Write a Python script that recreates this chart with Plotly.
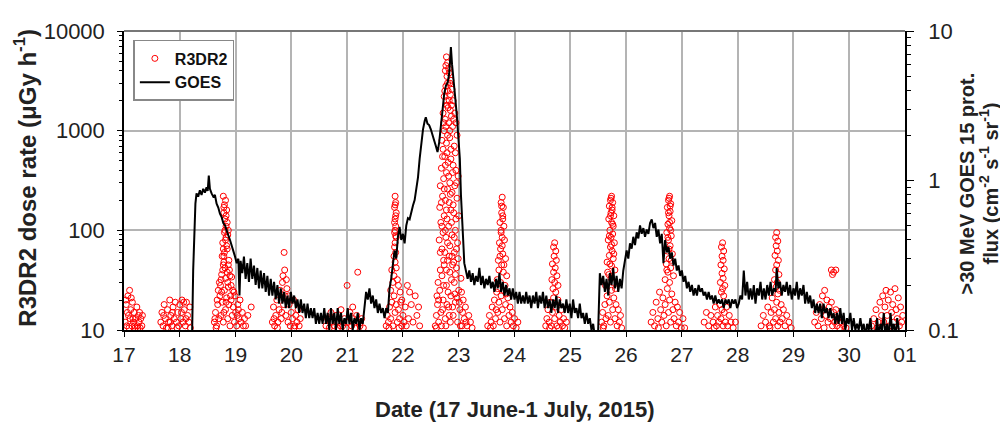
import plotly.graph_objects as go

# ---------------- DATA ----------------
# x tick labels (day of June 2015 ... 01 July)
day_ticks = [17, 18, 19, 20, 21, 22, 23, 24, 25, 26, 27, 28, 29, 30, 31]
day_labels = ["17", "18", "19", "20", "21", "22", "23", "24", "25", "26", "27", "28", "29", "30", "01"]
dose_ticks = [10, 100, 1000, 10000]
flux_ticks = [0.1, 1, 10]

# GOES >30 MeV proton flux (day, flux)
goes_part1 = [
    (18.20, 0.09), (18.22, 0.09), (18.24, 0.25), (18.26, 0.45), (18.28, 0.70), (18.30, 0.82), (18.33, 0.78),
    (18.36, 0.86), (18.39, 0.80), (18.42, 0.88), (18.45, 0.83), (18.48, 0.90), (18.50, 0.85), (18.52, 1.08),
    (18.54, 0.88), (18.57, 0.82), (18.60, 0.78), (18.63, 0.80), (18.66, 0.70), (18.69, 0.66), (18.72, 0.60),
    (18.75, 0.57), (18.78, 0.52), (18.81, 0.50), (18.84, 0.47), (18.87, 0.43), (18.90, 0.40), (18.93, 0.37),
    (18.96, 0.34), (18.99, 0.31), (19.02, 0.28), (19.05, 0.30), (19.07, 0.17), (19.09, 0.29), (19.12, 0.24),
    (19.15, 0.31), (19.18, 0.22), (19.21, 0.28), (19.24, 0.21), (19.27, 0.30), (19.30, 0.22), (19.33, 0.27),
    (19.36, 0.20), (19.39, 0.26), (19.42, 0.19), (19.45, 0.25), (19.48, 0.19), (19.51, 0.24), (19.54, 0.18),
    (19.57, 0.23), (19.60, 0.17), (19.63, 0.22), (19.66, 0.17), (19.69, 0.21), (19.72, 0.16), (19.75, 0.20),
    (19.78, 0.15), (19.81, 0.19), (19.84, 0.15), (19.87, 0.18), (19.90, 0.14), (19.93, 0.17), (19.96, 0.14),
    (19.99, 0.18), (20.02, 0.15), (20.05, 0.17), (20.08, 0.14), (20.11, 0.16), (20.14, 0.13), (20.17, 0.16),
    (20.20, 0.13), (20.23, 0.15), (20.26, 0.12), (20.29, 0.15), (20.32, 0.12), (20.35, 0.14), (20.38, 0.12),
    (20.41, 0.14), (20.44, 0.11), (20.47, 0.13), (20.50, 0.11), (20.53, 0.13), (20.56, 0.11), (20.59, 0.14),
    (20.62, 0.11), (20.65, 0.13), (20.68, 0.10), (20.71, 0.14), (20.74, 0.11), (20.77, 0.13), (20.80, 0.10),
    (20.83, 0.14), (20.86, 0.11), (20.89, 0.13), (20.92, 0.10), (20.95, 0.12), (20.98, 0.11), (21.01, 0.14),
    (21.04, 0.11), (21.07, 0.13), (21.10, 0.10), (21.13, 0.12), (21.16, 0.11), (21.19, 0.13), (21.22, 0.10),
    (21.25, 0.12), (21.28, 0.11), (21.31, 0.15), (21.34, 0.18), (21.37, 0.16), (21.40, 0.19), (21.43, 0.15),
    (21.46, 0.17), (21.49, 0.14), (21.52, 0.16), (21.55, 0.13), (21.58, 0.15), (21.61, 0.13), (21.64, 0.14),
    (21.67, 0.12), (21.70, 0.14), (21.73, 0.13),
]
goes_part2 = [
    (21.76, 0.19), (21.79, 0.22), (21.82, 0.28), (21.85, 0.34), (21.88, 0.30), (21.91, 0.42), (21.94, 0.49),
    (21.97, 0.40), (22.00, 0.44), (22.03, 0.38), (22.06, 0.50), (22.09, 0.56), (22.12, 0.55), (22.15, 0.62),
    (22.18, 0.68), (22.21, 0.74), (22.24, 0.90), (22.27, 1.05), (22.30, 1.40), (22.33, 1.80), (22.36, 2.20),
    (22.39, 2.50), (22.41, 2.65), (22.44, 2.40), (22.47, 2.35), (22.50, 2.20), (22.53, 2.05), (22.56, 1.85),
    (22.59, 1.70), (22.62, 1.55), (22.65, 1.80), (22.68, 2.40), (22.71, 3.00), (22.74, 3.80), (22.77, 4.30),
    (22.80, 4.50), (22.83, 5.20), (22.86, 7.80), (22.88, 6.00), (22.91, 4.80), (22.94, 3.50), (22.97, 2.60),
    (23.00, 1.70), (23.02, 1.40), (23.04, 0.80), (23.06, 0.50), (23.08, 0.40), (23.10, 0.28), (23.13, 0.24),
    (23.16, 0.22), (23.19, 0.25), (23.22, 0.21), (23.25, 0.24), (23.28, 0.20), (23.31, 0.23), (23.34, 0.21),
    (23.37, 0.26), (23.40, 0.20), (23.43, 0.23), (23.46, 0.19), (23.49, 0.22), (23.52, 0.20), (23.55, 0.23),
    (23.58, 0.19), (23.61, 0.21), (23.64, 0.18), (23.67, 0.22), (23.70, 0.19), (23.73, 0.24), (23.76, 0.18),
    (23.79, 0.21), (23.82, 0.17), (23.85, 0.20), (23.88, 0.17), (23.91, 0.19), (23.94, 0.16), (23.97, 0.19),
    (24.00, 0.16), (24.03, 0.18), (24.06, 0.15), (24.09, 0.18), (24.12, 0.15), (24.15, 0.17), (24.18, 0.15),
    (24.21, 0.18), (24.24, 0.15), (24.27, 0.17), (24.30, 0.14), (24.33, 0.17), (24.36, 0.15), (24.39, 0.18),
    (24.42, 0.14), (24.45, 0.17), (24.48, 0.15), (24.51, 0.18), (24.54, 0.14), (24.57, 0.17), (24.60, 0.14),
    (24.63, 0.16), (24.66, 0.13), (24.69, 0.16), (24.72, 0.14), (24.75, 0.17), (24.78, 0.13), (24.81, 0.16),
    (24.84, 0.14), (24.87, 0.15), (24.90, 0.13), (24.93, 0.16), (24.96, 0.13), (24.99, 0.15), (25.02, 0.12),
    (25.05, 0.16), (25.08, 0.13), (25.11, 0.14), (25.14, 0.12), (25.17, 0.15), (25.20, 0.12), (25.23, 0.13),
    (25.26, 0.11), (25.29, 0.13), (25.32, 0.11), (25.35, 0.12), (25.38, 0.10), (25.41, 0.11), (25.44, 0.09),
    (25.47, 0.09), (25.50, 0.10),
]
goes_part3 = [
    (25.53, 0.24), (25.56, 0.20), (25.59, 0.23), (25.62, 0.18), (25.65, 0.22), (25.68, 0.17), (25.71, 0.24),
    (25.74, 0.20), (25.77, 0.26), (25.80, 0.19), (25.83, 0.23), (25.86, 0.18), (25.89, 0.22), (25.92, 0.19),
    (25.95, 0.25), (25.98, 0.29), (26.01, 0.34), (26.04, 0.30), (26.07, 0.38), (26.10, 0.35), (26.13, 0.42),
    (26.16, 0.37), (26.19, 0.45), (26.22, 0.41), (26.25, 0.50), (26.28, 0.44), (26.31, 0.48), (26.34, 0.42),
    (26.37, 0.47), (26.40, 0.44), (26.43, 0.52), (26.46, 0.55), (26.49, 0.48), (26.52, 0.52), (26.55, 0.42),
    (26.58, 0.47), (26.61, 0.38), (26.64, 0.44), (26.67, 0.28), (26.70, 0.40), (26.73, 0.33), (26.76, 0.36),
    (26.79, 0.30), (26.82, 0.33), (26.85, 0.27), (26.88, 0.30), (26.91, 0.25), (26.94, 0.27), (26.97, 0.23),
    (27.00, 0.25), (27.03, 0.21), (27.06, 0.23), (27.09, 0.19), (27.12, 0.21), (27.15, 0.18), (27.18, 0.20),
    (27.21, 0.17), (27.24, 0.19), (27.27, 0.17), (27.30, 0.20), (27.33, 0.18), (27.36, 0.19), (27.39, 0.17),
    (27.42, 0.18), (27.45, 0.16), (27.48, 0.18), (27.51, 0.16), (27.54, 0.17), (27.57, 0.15), (27.60, 0.17),
    (27.63, 0.15), (27.66, 0.16), (27.69, 0.15), (27.72, 0.16), (27.75, 0.14), (27.78, 0.16), (27.81, 0.15),
    (27.84, 0.16), (27.87, 0.14), (27.90, 0.16), (27.93, 0.15), (27.96, 0.16), (27.99, 0.14), (28.02, 0.15),
    (28.05, 0.17), (28.08, 0.16), (28.11, 0.25), (28.14, 0.17), (28.17, 0.21), (28.20, 0.16), (28.23, 0.19),
    (28.26, 0.16), (28.29, 0.20), (28.32, 0.15), (28.35, 0.19), (28.38, 0.17), (28.41, 0.21), (28.44, 0.16),
    (28.47, 0.19), (28.50, 0.16), (28.53, 0.20), (28.56, 0.17), (28.59, 0.21), (28.62, 0.17), (28.65, 0.19),
    (28.68, 0.18), (28.70, 0.26), (28.73, 0.19), (28.76, 0.21), (28.79, 0.17), (28.82, 0.20), (28.85, 0.18),
    (28.88, 0.21), (28.91, 0.17), (28.94, 0.20), (28.97, 0.16), (29.00, 0.19), (29.03, 0.17), (29.06, 0.21),
    (29.09, 0.16), (29.12, 0.19), (29.15, 0.17), (29.18, 0.20), (29.21, 0.15), (29.24, 0.18), (29.27, 0.15),
    (29.30, 0.17), (29.33, 0.14), (29.36, 0.16), (29.39, 0.13), (29.42, 0.15), (29.45, 0.13), (29.48, 0.15),
    (29.51, 0.12), (29.54, 0.15), (29.57, 0.13), (29.60, 0.14), (29.63, 0.12), (29.66, 0.14), (29.69, 0.12),
    (29.72, 0.13), (29.75, 0.11), (29.78, 0.13), (29.81, 0.11), (29.84, 0.14), (29.87, 0.11), (29.90, 0.13),
    (29.93, 0.10), (29.96, 0.12), (29.99, 0.11), (30.02, 0.13), (30.05, 0.10), (30.08, 0.12), (30.11, 0.10),
    (30.14, 0.11), (30.17, 0.10), (30.20, 0.12), (30.23, 0.10), (30.26, 0.11), (30.29, 0.09), (30.32, 0.11),
    (30.35, 0.10), (30.38, 0.12), (30.41, 0.09), (30.44, 0.10), (30.47, 0.09), (30.50, 0.12), (30.53, 0.09),
    (30.56, 0.11), (30.59, 0.10), (30.62, 0.13), (30.65, 0.09), (30.68, 0.11), (30.71, 0.09), (30.74, 0.13),
    (30.77, 0.10), (30.80, 0.11), (30.83, 0.09), (30.86, 0.12), (30.89, 0.10), (30.92, 0.09),
]

# R3DR2 dose rate (day, uGy/h), grouped by radiation-belt passage
r3_17a = [(17.02,12),(17.04,18),(17.05,11),(17.07,22),(17.08,14),(17.10,25),(17.11,13),(17.12,16),(17.14,11),
          (17.15,19),(17.17,12),(17.18,15),(17.20,10.5),(17.21,13),(17.23,17),(17.24,11),(17.26,14),(17.27,12),
          (17.29,10.5),(17.30,13),(17.32,11),(17.33,14),(17.06,15),(17.09,10.5),(17.13,21),(17.19,11),
          (17.25,10.5),(17.16,13),(17.03,20),(17.28,15)]
r3_17b = [(17.66,12),(17.68,15),(17.70,11),(17.72,18),(17.74,13),(17.76,10.5),(17.78,16),(17.80,12),(17.82,20),
          (17.84,14),(17.86,11),(17.88,17),(17.90,13),(17.92,19),(17.94,12),(17.96,15),(17.98,11),(18.00,18),
          (18.02,13),(18.04,20),(18.06,12),(18.08,16),(18.10,11),(18.12,19),(18.14,14),(18.16,12),(18.18,17),
          (17.71,14),(17.79,10.5),(17.87,15),(17.95,10.5),(18.03,15),(18.11,13),(18.19,10.5),(17.83,12),(18.07,19)]
r3_18 = [(18.78,220),(18.80,180),(18.79,150),(18.82,200),(18.81,130),(18.84,160),(18.83,110),(18.85,120),
         (18.80,95),(18.86,90),(18.82,80),(18.84,70),(18.78,65),(18.87,100),(18.83,140),
         (18.76,55),(18.79,48),(18.81,42),(18.85,38),(18.88,50),(18.90,35),(18.77,40),(18.74,32),(18.86,30),
         (18.92,28),(18.95,25),(18.82,33),(18.80,60),(18.78,45),
         (18.62,12),(18.64,15),(18.66,11),(18.68,18),(18.70,13),(18.72,22),(18.74,14),(18.76,19),(18.78,12),
         (18.80,25),(18.82,16),(18.84,21),(18.86,13),(18.88,18),(18.90,11),(18.92,20),(18.94,14),(18.96,17),
         (18.98,12),(19.00,15),(19.02,11),(19.04,18),(19.06,13),(19.08,20),(19.10,12),(19.12,15),(19.14,11),
         (19.16,13),(18.69,25),(18.73,28),(18.91,22),(18.97,24),(19.05,16),(18.65,10.5),(19.18,11),(18.87,27),
         (19.22,14),(19.28,17),
         (18.79,170),(18.81,100),(18.83,85),(18.77,75),(18.85,65),(18.79,55),(18.87,45),(18.75,36),(18.89,40),
         (18.71,30),(18.93,34),(18.67,20),(18.75,24),(18.83,19),(18.99,22),(19.03,14),(18.63,13),(18.79,15)]
r3_19 = [(19.66,12),(19.68,17),(19.70,11),(19.72,14),(19.74,20),(19.76,12),(19.78,16),(19.80,25),(19.82,13),
         (19.84,30),(19.86,18),(19.87,60),(19.88,40),(19.89,22),(19.90,14),(19.92,26),(19.94,12),(19.96,18),
         (19.98,11),(20.00,15),(20.02,13),(20.04,20),(20.06,11),(20.08,14),(20.10,12),(20.12,16),(20.14,11),
         (20.16,13),(19.75,10.5),(19.85,35),(19.95,22),(20.05,10.5),(19.69,13),(19.91,32),(19.83,15)]
r3_20 = [(20.62,11),(20.65,13),(20.68,10.5),(20.71,15),(20.74,12),(20.77,11),(20.80,14),(20.83,10.5),(20.86,12),
         (20.89,16),(20.92,11),(20.95,13),(20.98,10.5),(21.00,28),(21.02,12),(21.05,15),(21.08,11),(21.11,13),
         (21.14,10.5),(21.17,14),(21.19,38),(21.20,12),(21.23,11),(21.26,13),(21.29,10.5),(20.70,12),(20.88,11),
         (21.10,17)]
r3_21 = [(21.86,220),(21.87,190),(21.85,170),(21.88,150),(21.86,130),(21.87,110),(21.85,95),(21.88,85),
         (21.86,75),(21.87,60),(21.84,55),(21.86,48),
         (21.80,40),(21.82,30),(21.84,35),(21.88,42),(21.90,32),(21.92,28),(21.78,25),(21.95,24),(21.98,20),
         (21.70,11),(21.72,14),(21.74,12),(21.76,17),(21.78,13),(21.80,19),(21.82,11),(21.84,22),(21.86,15),
         (21.88,18),(21.90,12),(21.92,16),(21.94,13),(21.96,19),(21.98,11),(22.00,14),(22.02,12),(22.04,17),
         (22.06,11),(22.08,28),(22.10,13),(22.12,24),(22.15,18),(22.18,12),(22.22,22),(22.25,14),(22.28,17),
         (22.30,11),(21.75,10.5),(21.93,10.5),
         (21.86,180),(21.87,140),(21.85,120),(21.86,100),(21.87,88),(21.85,68)]
r3_22 = [(22.78,5500),(22.80,4800),(22.76,4000),(22.82,4200),(22.79,3500),(22.84,3000),(22.77,2800),(22.81,2500),
         (22.86,3200),(22.74,2200),(22.83,2000),(22.88,2600),(22.79,1800),(22.85,1600),(22.72,1500),(22.90,2000),
         (22.76,1300),(22.82,1200),(22.87,1400),(22.93,1500),(22.74,1000),(22.80,900),(22.89,1100),(22.95,1200),
         (22.70,800),(22.78,750),(22.84,850),(22.92,700),(22.97,900),(22.72,650),
         (22.75,550),(22.81,480),(22.86,520),(22.90,450),(22.69,420),(22.78,380),(22.95,400),(22.73,330),
         (22.84,300),(22.99,350),(22.67,280),(22.80,260),(22.88,240),(22.93,280),(22.71,220),(22.76,200),
         (22.83,190),(22.97,210),(22.66,170),(22.86,160),(22.91,150),(22.74,140),(22.79,130),(23.00,140),
         (22.68,120),(22.82,110),(22.94,100),(22.72,95),(22.88,90),(22.65,80),(22.77,85),(22.98,75),(22.84,70),
         (22.70,65),(22.92,60),
         (22.58,11),(22.60,14),(22.62,18),(22.64,12),(22.66,25),(22.68,15),(22.70,35),(22.72,20),(22.74,45),
         (22.76,13),(22.78,28),(22.80,50),(22.82,17),(22.84,38),(22.86,22),(22.88,55),(22.90,14),(22.92,30),
         (22.94,19),(22.96,42),(22.98,12),(23.00,25),(23.02,16),(23.04,33),(23.06,11),(23.08,20),(23.10,13),
         (23.12,17),(23.15,11),(23.18,14),(23.21,12),(23.24,10.5),(22.61,22),(22.67,40),(22.73,28),(22.79,18),
         (22.85,12),(22.91,48),(22.97,21),(23.03,11),(22.63,30),(22.75,60),(22.87,32),(22.99,52),(23.05,24),
         (22.69,11),(22.81,24),
         (22.77,4500),(22.83,3800),(22.80,3000),(22.75,2500),(22.85,2300),(22.78,2000),(22.81,1700),(22.87,1800),
         (22.73,1200),(22.91,1300),(22.77,1100),(22.84,1000),(22.79,600),(22.86,650),(22.71,550),(22.94,600),
         (22.76,450),(22.89,380),(22.82,350),(22.74,260),(22.96,300),(22.85,230),(22.69,190),(22.90,180),
         (22.78,160),(22.95,130),(22.70,110),(22.87,120),(22.76,100),(22.92,85),(22.80,75),(22.67,60),
         (22.96,65),(22.83,55),(22.73,50),(22.89,45),(22.78,40),(22.94,36),(22.64,20),(22.71,16),(22.83,14),
         (22.93,23),(23.01,19),(23.07,15),(22.60,10.5),(22.77,11),(22.89,17),(23.13,12)]
r3_23 = [(23.78,215),(23.76,190),(23.80,170),(23.77,150),(23.79,130),(23.74,120),(23.81,110),(23.76,95),
         (23.78,85),(23.73,75),(23.82,80),(23.75,65),(23.79,58),(23.71,50),(23.84,52),(23.77,45),(23.72,40),
         (23.80,38),(23.86,35),(23.69,32),(23.75,30),(23.83,28),
         (23.52,11),(23.55,14),(23.58,12),(23.60,17),(23.62,11),(23.64,20),(23.66,13),(23.68,24),(23.70,15),
         (23.72,19),(23.74,12),(23.76,22),(23.78,16),(23.80,25),(23.82,13),(23.84,18),(23.86,11),(23.88,21),
         (23.90,14),(23.92,17),(23.94,12),(23.96,15),(23.98,11),(24.00,13),(24.03,10.5),(24.06,12),(23.57,10.5),
         (23.67,16),
         (23.77,175),(23.79,140),(23.76,100),(23.78,70),(23.74,55),(23.81,45),(23.70,26),(23.85,23)]
r3_24 = [(24.72,75),(24.70,68),(24.74,62),(24.71,55),(24.75,50),(24.68,46),(24.73,42),(24.70,38),(24.76,35),
         (24.67,32),(24.72,30),(24.78,28),(24.69,26),(24.74,24),
         (24.56,11),(24.58,13),(24.60,16),(24.62,12),(24.64,19),(24.66,11),(24.68,15),(24.70,21),(24.72,13),
         (24.74,17),(24.76,11),(24.78,20),(24.80,14),(24.82,12),(24.84,16),(24.86,11),(24.88,13),(24.90,10.5),
         (24.93,12),(24.63,10.5),(24.79,10.5)]
r3_25 = [(25.74,220),(25.72,200),(25.76,190),(25.70,175),(25.75,160),(25.73,150),(25.78,140),(25.69,130),
         (25.74,120),(25.77,110),(25.71,100),(25.76,92),(25.73,85),(25.68,80),(25.79,75),(25.72,68),(25.75,62),
         (25.70,56),(25.77,52),(25.66,48),(25.74,44),(25.80,40),(25.69,36),(25.73,33),(25.76,30),
         (25.56,12),(25.58,15),(25.60,11),(25.62,18),(25.64,13),(25.66,22),(25.68,14),(25.70,19),(25.72,12),
         (25.74,25),(25.76,16),(25.78,21),(25.80,13),(25.82,18),(25.84,11),(25.86,16),(25.88,12),(25.90,14),
         (25.92,10.5),(25.63,28),(25.81,26),(25.59,10.5),
         (25.73,210),(25.75,170),(25.72,140),(25.76,115),(25.70,88),(25.74,72),(25.78,58),(25.71,46),(25.67,38)]
r3_26 = [(26.78,220),(26.76,200),(26.80,185),(26.74,170),(26.79,155),(26.77,140),(26.82,125),(26.75,115),
         (26.78,105),(26.73,95),(26.81,88),(26.76,80),(26.79,70),(26.74,62),(26.83,58),(26.77,52),(26.72,46),
         (26.80,42),(26.75,38),(26.85,35),(26.70,32),(26.78,30),
         (26.45,12),(26.48,15),(26.51,11),(26.54,19),(26.57,13),(26.60,24),(26.62,16),(26.64,12),(26.66,21),
         (26.68,14),(26.70,18),(26.72,11),(26.74,26),(26.76,15),(26.78,20),(26.80,12),(26.82,23),(26.84,16),
         (26.86,13),(26.88,19),(26.90,11),(26.92,17),(26.94,12),(26.96,15),(26.99,10.5),(27.02,13),(27.05,10.5),
         (26.58,10.5),
         (26.77,210),(26.79,175),(26.76,150),(26.78,120),(26.80,100),(26.75,85),(26.77,65),(26.81,50),(26.73,40)]
r3_27 = [(27.73,75),(27.71,68),(27.75,62),(27.72,55),(27.74,50),(27.70,45),(27.76,41),(27.72,37),(27.74,33),
         (27.69,30),(27.77,28),(27.73,26),(27.71,24),(27.75,22),
         (27.40,12),(27.44,15),(27.48,11),(27.52,14),(27.56,12),(27.60,17),(27.62,11),(27.64,14),(27.66,12),
         (27.68,18),(27.70,13),(27.72,16),(27.74,11),(27.76,15),(27.78,12),(27.80,17),(27.82,11),(27.85,14),
         (27.88,12),(27.92,10.5),(27.96,12),(27.58,10.5)]
r3_28 = [(28.70,95),(28.68,85),(28.72,78),(28.69,70),(28.71,62),(28.67,56),(28.73,50),(28.70,45),(28.68,40),
         (28.74,36),(28.66,32),(28.71,30),(28.69,27),(28.75,25),(28.72,23),
         (28.42,11),(28.46,14),(28.50,12),(28.54,17),(28.57,11),(28.60,15),(28.62,21),(28.64,12),(28.66,16),
         (28.68,13),(28.70,19),(28.72,11),(28.74,15),(28.76,12),(28.78,18),(28.80,13),(28.82,16),(28.85,11),
         (28.88,14),(28.92,12),(28.96,10.5),(28.58,10.5)]
r3_29 = [(29.68,40),(29.72,38),(29.76,40),(29.70,36),
         (29.38,12),(29.41,15),(29.44,11),(29.47,18),(29.50,13),(29.52,22),(29.54,16),(29.56,25),(29.58,14),
         (29.60,20),(29.62,12),(29.64,17),(29.66,13),(29.68,19),(29.70,11),(29.72,15),(29.74,12),(29.76,16),
         (29.78,11),(29.80,13),(29.83,10.5),(29.86,12),(29.90,11),(29.94,10.5),(29.55,10.5)]
r3_30 = [(30.40,11),(30.44,13),(30.48,16),(30.52,12),(30.55,19),(30.58,14),(30.60,22),(30.62,12),(30.64,17),
         (30.66,25),(30.68,14),(30.70,20),(30.72,11),(30.74,24),(30.76,15),(30.78,18),(30.80,12),(30.82,26),
         (30.84,16),(30.86,13),(30.88,21),(30.90,11),(30.92,17),(30.94,12),(30.96,14),(30.50,10.5),(30.71,10.5)]

# ---------------- BUILD ----------------
goes_all = goes_part1 + goes_part2 + goes_part3
goes_day = [p[0] for p in goes_all]
goes_flux = [p[1] for p in goes_all]

r3_all = r3_17a + r3_17b + r3_18 + r3_19 + r3_20 + r3_21 + r3_22 + r3_23 + r3_24 + r3_25 + r3_26 + r3_27 + r3_28 + r3_29 + r3_30
r3_day = [p[0] for p in r3_all]
r3_dose = [p[1] for p in r3_all]

FONT = "Liberation Sans, Arial, sans-serif"
GRID = "#b4b4b4"
TXT = "#222222"

fig = go.Figure()
fig.add_trace(go.Scatter(
    x=r3_day, y=r3_dose, mode="markers", name="R3DR2",
    marker=dict(symbol="circle-open", size=6, color="#ff0000", line=dict(width=1, color="#ff0000")),
    yaxis="y",
))
fig.add_trace(go.Scatter(
    x=goes_day, y=goes_flux, mode="lines", name="GOES",
    line=dict(color="black", width=2),
    yaxis="y2",
))

minor_left = [v * m for v in (10, 100, 1000) for m in range(2, 10)]
minor_right = [v * m for v in (0.1, 1) for m in range(2, 10)]

# the page body adds an 8 px offset, so the figure is 1000x422
fig.update_layout(
    width=1000, height=422,
    margin=dict(l=116, r=103, t=23, b=100),
    paper_bgcolor="white", plot_bgcolor="white",
    font=dict(family=FONT, color=TXT),
    showlegend=True,
    legend=dict(
        x=0.012, y=0.97, xanchor="left", yanchor="top",
        bgcolor="white", bordercolor="#888888", borderwidth=1.5,
        font=dict(family=FONT, size=16, color="#111111", weight="bold"),
        itemwidth=30, tracegroupgap=0,
    ),
    xaxis=dict(
        range=[17, 31], tickmode="array", tickvals=day_ticks, ticktext=day_labels,
        showgrid=True, gridcolor=GRID, gridwidth=1.5, zeroline=False,
        showline=True, linecolor="black", linewidth=1.5,
        ticks="outside", ticklen=5, tickcolor="black",
        tickfont=dict(family=FONT, size=21, color=TXT),
    ),
    yaxis=dict(
        type="log", range=[1, 4], tickmode="array", tickvals=dose_ticks,
        ticktext=[str(v) for v in dose_ticks],
        showgrid=True, gridcolor=GRID, gridwidth=1.5, zeroline=False,
        showline=True, linecolor="black", linewidth=1.5,
        ticks="outside", ticklen=5, tickcolor="black",
        minor=dict(tickmode="array", tickvals=minor_left, ticks="outside", ticklen=3, tickcolor="black", showgrid=False),
        tickfont=dict(family=FONT, size=22, color=TXT),
        ticklabelstandoff=8,
    ),
    yaxis2=dict(
        type="log", range=[-1, 1], overlaying="y", side="right",
        tickmode="array", tickvals=flux_ticks, ticktext=["0.1", "1", "10"],
        showgrid=False, zeroline=False,
        showline=True, linecolor="black", linewidth=1.5,
        ticks="outside", ticklen=7, tickcolor="black",
        minor=dict(tickmode="array", tickvals=minor_right, ticks="outside", ticklen=4, tickcolor="black", showgrid=False),
        tickfont=dict(family=FONT, size=22, color=TXT),
        ticklabelstandoff=10,
    ),
    shapes=[dict(type="line", xref="paper", yref="paper", x0=0, x1=1, y0=1, y1=1,
                 line=dict(color="#777777", width=2))],
    annotations=[
        dict(text="R3DR2 dose rate (μGy h<sup>-1</sup>)", xref="paper", yref="paper",
             x=-0.126, y=0.508, textangle=-90, showarrow=False, xanchor="center", yanchor="middle",
             font=dict(family=FONT, size=24, color=TXT, weight="bold")),
        dict(text=">30 MeV GOES 15 prot.",
             xref="paper", yref="paper", x=1.0794, y=0.49, textangle=-90, showarrow=False,
             xanchor="center", yanchor="middle",
             font=dict(family=FONT, size=20, color=TXT, weight="bold")),
        dict(text="flux (cm<sup>-2</sup> s<sup>-1</sup> sr<sup>-1</sup>)",
             xref="paper", yref="paper", x=1.1075, y=0.49, textangle=-90, showarrow=False,
             xanchor="center", yanchor="middle",
             font=dict(family=FONT, size=20, color=TXT, weight="bold")),
        dict(text="Date (17 June-1 July, 2015)", xref="paper", yref="paper",
             x=0.5, y=-0.265, showarrow=False, xanchor="center", yanchor="middle",
             font=dict(family=FONT, size=22, color=TXT, weight="bold")),
    ],
)

fig.write_html("out.html")
